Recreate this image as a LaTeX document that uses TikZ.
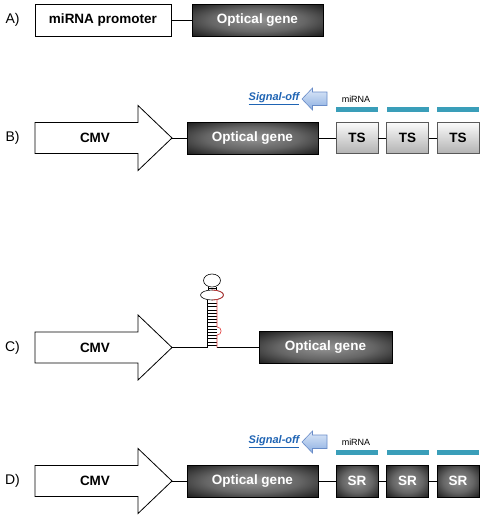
\documentclass[tikz,border=0pt]{standalone}
\usepackage{fontspec}
\setmainfont{Liberation Sans}
\definecolor{mirbar}{RGB}{58,158,185}
\definecolor{sigtext}{RGB}{31,100,180}
\definecolor{sigtop}{RGB}{222,233,249}
\definecolor{sigbot}{RGB}{140,175,225}
\definecolor{sigedge}{RGB}{105,140,200}
\definecolor{hpred}{RGB}{225,60,60}
\pgfdeclareradialshading{glow}{\pgfpoint{0bp}{0bp}}{color(0bp)=(black!42); color(18bp)=(black!60); color(36bp)=(black!90); color(50bp)=(black)}
\tikzset{
  lbl/.style={font=\fontsize{14}{16}\selectfont, inner sep=0pt},
  promo/.style={draw=black, line width=0.8pt, fill=white, minimum width=136pt, minimum height=32pt, inner sep=0pt, font=\bfseries\fontsize{13.5}{16}\selectfont},
  gene/.style={draw=black, line width=0.6pt, shading=glow, minimum height=32pt, inner sep=0pt, text=white, font=\bfseries\fontsize{13.5}{16}\selectfont},
  tsbox/.style={draw=black!65, line width=0.8pt, top color=black!2, bottom color=black!30, minimum width=42pt, minimum height=31pt, inner sep=0pt, font=\bfseries\fontsize{13.5}{16}\selectfont},
  srbox/.style={draw=black, line width=0.6pt, shading=glow, minimum width=42pt, minimum height=32pt, inner sep=0pt, text=white, font=\bfseries\fontsize{13.5}{16}\selectfont},
  mbar/.style={fill=mirbar, draw=none, minimum width=42pt, minimum height=5pt, inner sep=0pt},
  link/.style={draw=black, line width=0.8pt},
  arrowbody/.style={draw=black, line width=0.8pt, fill=white},
  cmvtext/.style={font=\bfseries\fontsize{13.5}{16}\selectfont, inner sep=0pt},
  mirtext/.style={font=\fontsize{9}{11}\selectfont, inner sep=0pt},
  sigtxt/.style={font=\bfseries\itshape\fontsize{11}{13}\selectfont, text=sigtext, inner sep=0pt},
  sigarrow/.style={draw=sigedge, line width=0.6pt, top color=sigtop, bottom color=sigbot},
  hp/.style={draw=black, line width=0.6pt},
  hpr/.style={draw=hpred, line width=0.6pt},
}
\begin{document}
\begin{tikzpicture}[x=1pt, y=-1pt]
\useasboundingbox (0,0) rectangle (486,517);
\fill[white] (0,0) rectangle (486,517);

% ---------- A ----------
\node[lbl] (labA) at (12.5,20) {A)};
\node[promo] (promA) at (103,20) {miRNA promoter};
\node[gene, minimum width=131pt] (geneA) at (257.5,20) {Optical gene};
\draw[link] (promA.east) -- (geneA.west);

% ---------- CMV arrows (B, C, D) ----------
\foreach \n/\c in {B/138, C/347.5, D/481} {
  \node[lbl] (lab\n) at (12.5,\c) {\n)};
  \draw[arrowbody] (35,\c-15.5) -- (138,\c-15.5) -- (138,\c-32.5) -- (172,\c)
        -- (138,\c+32.5) -- (138,\c+15.5) -- (35,\c+15.5) -- cycle;
  \node[cmvtext] (cmv\n) at (95,\c) {CMV};
  \coordinate (tip\n) at (172,\c);
}

% ---------- B and D constructs ----------
\foreach \n/\c/\t/\s in {B/138/TS/tsbox, D/481/SR/srbox} {
  \node[gene, minimum width=131pt] (gene\n) at (252.5,\c) {Optical gene};
  \draw[link] (tip\n) -- (gene\n.west);
  \node[\s] (box\n1) at (357,\c) {\t};
  \node[\s] (box\n2) at (407.5,\c) {\t};
  \node[\s] (box\n3) at (458,\c) {\t};
  \draw[link] (gene\n.east) -- (box\n1.west);
  \draw[link] (box\n1.east) -- (box\n2.west);
  \draw[link] (box\n2.east) -- (box\n3.west);
  \node[mbar] (bar\n1) at (357,\c-28.5) {};
  \node[mbar] (bar\n2) at (407.5,\c-28.5) {};
  \node[mbar] (bar\n3) at (458,\c-28.5) {};
  \node[mirtext] (mir\n) at (356,\c-39) {miRNA};
  \draw[sigarrow] (302,\c-39) -- (312.5,\c-50) -- (312.5,\c-46) -- (327,\c-46)
        -- (327,\c-32.5) -- (312.5,\c-32.5) -- (312.5,\c-28) -- cycle;
  \node[sigtxt] (sig\n) at (274,\c-39) {\underline{Signal-off}};
}

% ---------- C construct (hairpin) ----------
\node[gene, minimum width=133pt] (geneC) at (325.5,347.5) {Optical gene};
\coordinate (stemL) at (207,347.5);
\coordinate (stemR) at (217,347.5);
\draw[link] (tipC) -- (stemL);
\draw[link] (stemR) -- (geneC.west);
% stem
\draw[hp] (stemL) -- (207,300);
\foreach \yy in {303.5,306.7,...,346} \draw[hp, line width=0.5pt] (207.3,\yy) -- (216.7,\yy);
\draw[hpr] (stemR) -- (217,335) .. controls (222.5,335) and (222.5,327) .. (217,327) -- (217,300);
% bulge ellipse
\draw[hp] (212,295) ellipse [x radius=11.5pt, y radius=5pt];
\begin{scope}
  \clip (212,285) rectangle (230,305);
  \draw[hpr] (212,295) ellipse [x radius=11.5pt, y radius=5pt];
\end{scope}
% neck and loop
\draw[hp] (208,286.5) -- (208,290.3);
\draw[hp] (216,286.5) -- (216,290.3);
\draw[hp, line width=0.5pt] (208,288.4) -- (216,288.4);
\draw[hp] (212,280.5) ellipse [x radius=8.5pt, y radius=6.5pt];
\end{tikzpicture}
\end{document}
